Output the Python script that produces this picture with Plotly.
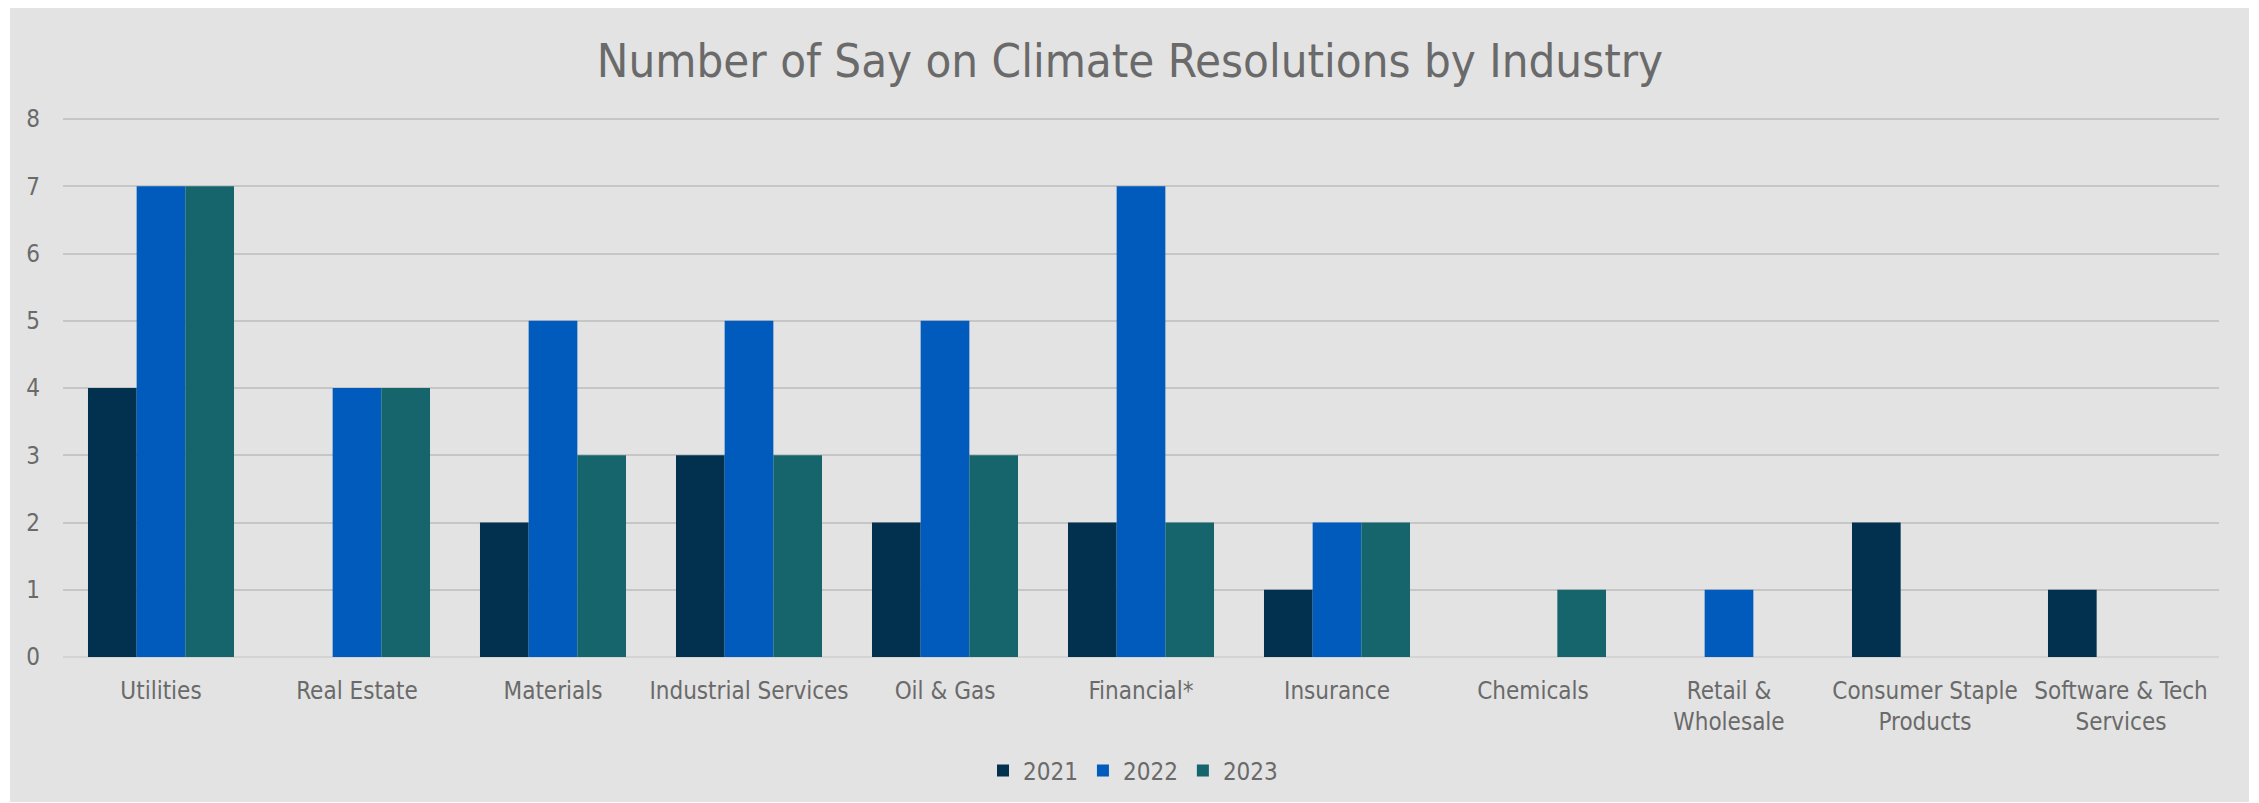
import plotly.graph_objects as go

categories = ["Utilities", "Real Estate", "Materials", "Industrial Services", "Oil & Gas",
              "Financial*", "Insurance", "Chemicals", "Retail &<br>Wholesale",
              "Consumer Staple<br>Products", "Software & Tech<br>Services"]
years = ["2021", "2022", "2023"]
v2021 = [4, None, 2, 3, 2, 2, 1, None, None, 2, 1]
v2022 = [7, 4, 5, 5, 5, 7, 2, None, 1, None, None]
v2023 = [7, 4, 3, 3, 3, 2, 2, 1, None, None, None]
colors = ["#01314f", "#005bbd", "#16646c"]
y_ticks = [0, 1, 2, 3, 4, 5, 6, 7, 8]

W, H = 2259, 803
L, R, T, B = 63, 40, 115, 146
FONT = "DejaVu Sans Condensed"
TXT = "#6a6a6a"

fig = go.Figure()
for name, vals, c in zip(years, [v2021, v2022, v2023], colors):
    fig.add_trace(go.Bar(name=name, x=categories, y=vals, marker=dict(color=c, line=dict(width=0))))

pw = W - L - R
ph = H - T - B
def px2x(px):
    return (px - L) / pw
def py2y(py):
    return (H - B - py) / ph

fig.add_shape(type="rect", xref="paper", yref="paper",
              x0=px2x(10), x1=px2x(2249), y0=py2y(802), y1=py2y(8),
              fillcolor="#e3e3e3", line=dict(width=0), layer="below")

fig.update_layout(
    width=W, height=H,
    margin=dict(l=L, r=R, t=T, b=B, autoexpand=False),
    paper_bgcolor="white", plot_bgcolor="rgba(0,0,0,0)",
    barmode="group", bargap=0.255, bargroupgap=0,
    font=dict(family=FONT, size=24, color=TXT),
    title=dict(text="Number of Say on Climate Resolutions by Industry",
               x=1130 / W, xanchor="center", y=1 - 61 / H, yanchor="middle",
               font=dict(family=FONT, size=47, color=TXT)),
    showlegend=True,
    legend=dict(orientation="h", x=px2x(1133), xanchor="center", y=py2y(771), yanchor="middle",
                font=dict(family=FONT, size=24, color=TXT), bgcolor="rgba(0,0,0,0)",
                traceorder="normal"),
    xaxis=dict(showgrid=False, showline=False, ticks="", tickfont=dict(size=24, color=TXT),
               ticklabelstandoff=17),
    yaxis=dict(range=[0, 8.06], tickvals=y_ticks, showgrid=True, gridcolor="#c6c6c6", gridwidth=2,
               zeroline=True, zerolinecolor="#d4d4d4", zerolinewidth=2, showline=False, ticks="",
               tickfont=dict(size=24, color=TXT), ticklabelstandoff=22),
)

fig.write_html("out.html")
